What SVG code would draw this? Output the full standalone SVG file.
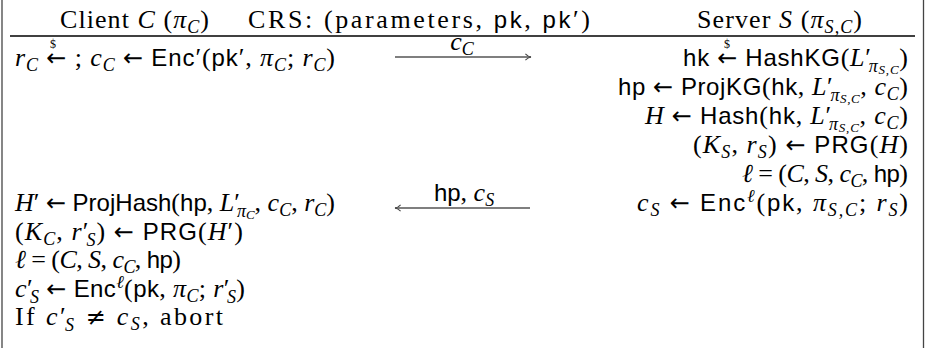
<svg xmlns="http://www.w3.org/2000/svg" width="930" height="348" viewBox="0 0 930 348">
<style>
.t{font-family:"Liberation Serif","Times New Roman",serif;font-size:26px;fill:#000}
.i{font-style:italic}
.f{font-family:"Liberation Sans",Arial,sans-serif;font-size:24px;font-style:normal}
.a{font-family:"DejaVu Sans",sans-serif;font-size:24px;font-style:normal}
.b{font-size:18px}
.bb{font-size:13px}
.d{font-family:"Liberation Serif",serif;font-size:12px;fill:#000}
.rule{stroke:#000;stroke-width:1.4}
.frame{stroke:#444;stroke-width:1.3}
.msg{stroke:#555;stroke-width:1.4;fill:none}
</style>
<defs>
<marker id="ah" viewBox="0 0 10 10" refX="9" refY="5" markerWidth="8" markerHeight="8" markerUnits="userSpaceOnUse" orient="auto">
<path d="M2,1 Q5,4.3 9,5 Q5,5.7 2,9" fill="none" stroke="#444" stroke-width="1.3"/>
</marker>
</defs>
<rect width="930" height="348" fill="#fff"/>
<g id="frame">
<line class="frame" x1="2" y1="0" x2="2" y2="348"/>
<line class="frame" x1="923.5" y1="0" x2="923.5" y2="348"/>
<line class="rule" x1="10" y1="36" x2="915" y2="36"/>
</g>
<g id="header">
<text class="t" x="60" y="28" textLength="149">Client <tspan class="i">C</tspan> (<tspan class="i">π</tspan><tspan class="i b" dy="5">C</tspan><tspan dy="-5">)</tspan></text>
<text class="t" x="248" y="28" textLength="342">CRS: (parameters, <tspan class="f">pk</tspan>, <tspan class="f">pk</tspan>′)</text>
<text class="t" x="697" y="28" textLength="165">Server <tspan class="i">S</tspan> (<tspan class="i">π</tspan><tspan class="i b" dy="5">S,C</tspan><tspan dy="-5">)</tspan></text>
</g>
<g id="client">
<text class="t" x="15" y="66" textLength="320"><tspan class="i">r</tspan><tspan class="i b" dy="5">C</tspan><tspan dy="-5"> </tspan><tspan class="a">←</tspan> ; <tspan class="i">c</tspan><tspan class="i b" dy="5">C</tspan><tspan dy="-5"> </tspan><tspan class="a">←</tspan> <tspan class="f">Enc</tspan>′(<tspan class="f">pk</tspan>′, <tspan class="i">π</tspan><tspan class="i b" dy="5">C</tspan><tspan dy="-5">; </tspan><tspan class="i">r</tspan><tspan class="i b" dy="5">C</tspan><tspan dy="-5">)</tspan></text>
<text class="d" x="53" y="48" text-anchor="middle">$</text>
<text class="t" x="15" y="211" textLength="320"><tspan class="i">H</tspan>′ <tspan class="a">←</tspan> <tspan class="f">ProjHash</tspan>(<tspan class="f">hp</tspan>, <tspan class="i">L</tspan>′<tspan class="i b" dx="-3" dy="6">π</tspan><tspan class="i bb" dy="2">C</tspan><tspan dy="-8">, </tspan><tspan class="i">c</tspan><tspan class="i b" dy="5">C</tspan><tspan dy="-5">, </tspan><tspan class="i">r</tspan><tspan class="i b" dy="5">C</tspan><tspan dy="-5">)</tspan></text>
<text class="t" x="15" y="240" textLength="228">(<tspan class="i">K</tspan><tspan class="i b" dy="5">C</tspan><tspan dy="-5">, </tspan><tspan class="i">r</tspan>′<tspan class="i b" dx="-3" dy="6">S</tspan><tspan dy="-6">) </tspan><tspan class="a">←</tspan> <tspan class="f">PRG</tspan>(<tspan class="i">H</tspan>′)</text>
<text class="t" x="15" y="268" textLength="166"><tspan class="i">ℓ</tspan> = (<tspan class="i">C</tspan>, <tspan class="i">S</tspan>, <tspan class="i">c</tspan><tspan class="i b" dy="5">C</tspan><tspan dy="-5">, </tspan><tspan class="f">hp</tspan>)</text>
<text class="t" x="15" y="297" textLength="230"><tspan class="i">c</tspan>′<tspan class="i b" dx="-3" dy="6">S</tspan><tspan dy="-6"> </tspan><tspan class="a">←</tspan> <tspan class="f">Enc</tspan><tspan class="i b" dy="-9">ℓ</tspan><tspan dy="9">(</tspan><tspan class="f">pk</tspan>, <tspan class="i">π</tspan><tspan class="i b" dy="5">C</tspan><tspan dy="-5">; </tspan><tspan class="i">r</tspan>′<tspan class="i b" dx="-3" dy="6">S</tspan><tspan dy="-6">)</tspan></text>
<text class="t" x="15" y="325" textLength="208">If <tspan class="i">c</tspan>′<tspan class="i b" dx="-3" dy="6">S</tspan><tspan dy="-6"> </tspan><tspan class="a">≠</tspan> <tspan class="i">c</tspan><tspan class="i b" dy="5">S</tspan><tspan dy="-5">, abort</tspan></text>
</g>
<g id="server">
<text class="t" x="683" y="66" textLength="225"><tspan class="f">hk</tspan> <tspan class="a">←</tspan> <tspan class="f">HashKG</tspan>(<tspan class="i">L</tspan>′<tspan class="i b" dx="-3" dy="6">π</tspan><tspan class="i bb" dy="2">S,C</tspan><tspan dy="-8">)</tspan></text>
<text class="d" x="727" y="48" text-anchor="middle">$</text>
<text class="t" x="618" y="95" textLength="290"><tspan class="f">hp</tspan> <tspan class="a">←</tspan> <tspan class="f">ProjKG</tspan>(<tspan class="f">hk</tspan>, <tspan class="i">L</tspan>′<tspan class="i b" dx="-3" dy="6">π</tspan><tspan class="i bb" dy="2">S,C</tspan><tspan dy="-8">, </tspan><tspan class="i">c</tspan><tspan class="i b" dy="5">C</tspan><tspan dy="-5">)</tspan></text>
<text class="t" x="645" y="124" textLength="263"><tspan class="i">H</tspan> <tspan class="a">←</tspan> <tspan class="f">Hash</tspan>(<tspan class="f">hk</tspan>, <tspan class="i">L</tspan>′<tspan class="i b" dx="-3" dy="6">π</tspan><tspan class="i bb" dy="2">S,C</tspan><tspan dy="-8">, </tspan><tspan class="i">c</tspan><tspan class="i b" dy="5">C</tspan><tspan dy="-5">)</tspan></text>
<text class="t" x="693" y="153" textLength="215">(<tspan class="i">K</tspan><tspan class="i b" dy="5">S</tspan><tspan dy="-5">, </tspan><tspan class="i">r</tspan><tspan class="i b" dy="5">S</tspan><tspan dy="-5">) </tspan><tspan class="a">←</tspan> <tspan class="f">PRG</tspan>(<tspan class="i">H</tspan>)</text>
<text class="t" x="742" y="182" textLength="166"><tspan class="i">ℓ</tspan> = (<tspan class="i">C</tspan>, <tspan class="i">S</tspan>, <tspan class="i">c</tspan><tspan class="i b" dy="5">C</tspan><tspan dy="-5">, </tspan><tspan class="f">hp</tspan>)</text>
<text class="t" x="637" y="211" textLength="271"><tspan class="i">c</tspan><tspan class="i b" dy="5">S</tspan><tspan dy="-5"> </tspan><tspan class="a">←</tspan> <tspan class="f">Enc</tspan><tspan class="i b" dy="-9">ℓ</tspan><tspan dy="9">(</tspan><tspan class="f">pk</tspan>, <tspan class="i">π</tspan><tspan class="i b" dy="5">S,C</tspan><tspan dy="-5">; </tspan><tspan class="i">r</tspan><tspan class="i b" dy="5">S</tspan><tspan dy="-5">)</tspan></text>
</g>
<g id="connectors">
<line class="msg" x1="395" y1="57" x2="531" y2="57" marker-end="url(#ah)"/>
<text class="t" x="462" y="50" text-anchor="middle"><tspan class="i">c</tspan><tspan class="i b" dy="5">C</tspan></text>
<line class="msg" x1="530" y1="208" x2="395" y2="208" marker-end="url(#ah)"/>
<text class="t" x="464" y="201" text-anchor="middle"><tspan class="f">hp</tspan>, <tspan class="i">c</tspan><tspan class="i b" dy="5">S</tspan></text>
</g>
</svg>
